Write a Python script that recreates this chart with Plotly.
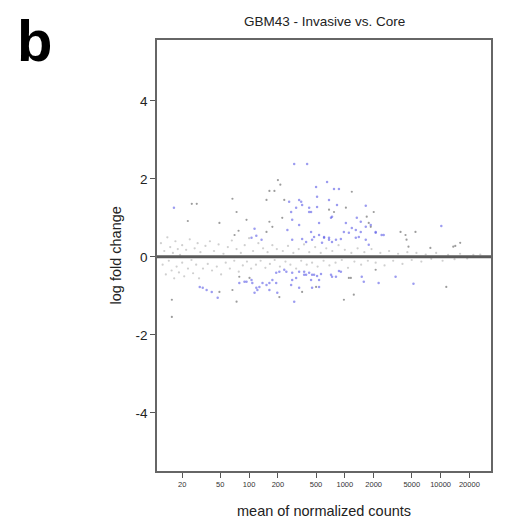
import plotly.graph_objects as go

# ---- data (mean of normalized counts, log fold change) ----
blue_counts = [296, 404, 652, 868, 501, 513, 262, 333, 275, 310, 358, 444, 538, 717, 282, 251, 333,
               444, 477, 538, 607, 684, 282, 358, 394, 978, 1102, 1302, 1468, 135, 808, 910, 1302, 1655,
               1468, 1655, 771, 350, 684, 424, 513, 828, 735, 1334, 1026, 1183, 1400, 2100, 2545, 10190,
               455, 607, 684, 578, 735, 1655, 1866, 2100, 2425, 1778, 16.4, 114, 106, 119, 424,
               30.5, 36, 40.7, 47, 32.8, 79, 94, 108, 114, 122, 138, 152, 163, 175, 163,
               192, 207, 233, 245, 282, 333, 376, 424, 455, 513, 564, 282, 310, 197, 296,
               333, 275, 444, 455, 538, 192, 717, 808, 868, 735, 910, 538, 1503, 1578, 2256, 3390, 5212,
               376, 477, 89.5, 106, 119, 128, 394]
blue_lfc = [2.38, 2.38, 1.92, 1.74, 1.79, 1.54, 1.41, 1.46, 1.15, 1.26, 1.33, 1.15, 0.87, 1.0, 0.95, 0.69, 0.82,
            0.64, 0.51, 0.56, 0.51, 0.49, 0.44, 0.46, 0.38, 0.64, 0.62, 0.69, 0.64, 0.44, 0.44, 0.46, 0.49, 0.44,
            0.9, 0.77, 1.74, 1.41, 1.46, 1.26, 1.28, 1.33, 1.03, 1.0, 0.87, 0.74, 0.51, 0.62, 0.56, 0.79,
            0.44, 0.49, 0.44, 0.36, 0.38, 1.31, 0.82, 0.64, 0.56, 0.31, 1.26, 0.72, 0.49, 0.54, 1.15,
            -0.77, -0.85, -0.9, -1.05, -0.79, -0.67, -0.64, -0.67, -0.92, -0.85, -0.67, -0.72, -0.67, -0.59, -0.85,
            -0.41, -0.38, -0.33, -0.38, -0.41, -0.38, -0.38, -0.41, -0.46, -0.49, -0.44, -0.59, -0.54, -0.92, -1.15,
            -0.79, -0.72, -0.59, -0.79, -0.77, -0.67, -0.46, -0.51, -0.36, -0.51, -0.38, -0.59, -0.51, -0.64, -0.67, -0.51, -0.69,
            -0.46, -0.46, -0.64, -0.59, -0.79, -0.77, -0.46]

dark_counts = [200, 212, 67, 22.9, 25.2, 28.4, 163, 184, 152, 1183, 49, 94, 77.6, 70.5, 74, 233, 222,
               684, 771, 1026, 2004, 1778, 1866, 1694, 3820, 4305, 5470, 16040, 14250, 4413, 163, 175, 152,
               15.6, 15.6, 67, 74, 49, 79, 101, 207, 358, 1102, 1241, 978, 501, 2100, 1156, 11480,
               4625, 7830, 13580]
dark_lfc = [1.97, 1.85, 1.49, 0.92, 1.36, 1.36, 1.69, 1.69, 1.46, 1.67, 0.87, 0.95, 0.67, 0.56, 1.15, 1.46, 1.0,
            1.21, 1.15, 1.26, 1.15, 0.87, 0.77, 1.03, 0.64, 0.56, 0.64, 0.36, 0.28, 0.44, 0.9, 0.77, 0.64,
            -1.1, -1.54, -0.85, -1.15, -0.9, -0.51, -0.54, -1.03, -0.9, -0.54, -0.97, -1.1, -0.77, -0.33, -0.54, -0.77,
            0.26, 0.23, 0.26]

light_counts = [12, 12.5, 13, 13.5, 14, 14.5, 15, 15.5, 16, 16.5, 17, 17.5, 18, 18.5, 19, 20, 20, 21, 22, 23,
                24, 25, 26, 27, 28, 29, 30, 31, 33, 35,
                37, 39, 41, 43, 46, 48, 51, 54, 57, 60, 63, 66, 70, 74, 78, 82, 86, 90, 95, 100,
                105, 110, 118, 125, 132, 140, 148, 156, 165, 175, 185, 195,
                210, 225, 240, 255, 270, 290, 310, 330, 350, 375, 400, 425, 455, 490, 520, 560, 600, 640,
                690, 740, 800, 860, 930, 1000, 1080, 1170, 1260, 1360, 1480, 1600, 1740, 1900,
                2100, 2350, 2600, 2900, 3200, 3600, 4000, 4500, 5000, 5600, 6300, 7000, 8000, 9000,
                10500, 12000, 14000, 16000, 19000, 22000, 26000]
light_lfc = [0.35, -0.2, 0.15, -0.45, 0.5, -0.1, 0.25, -0.35, 0.1, -0.55, 0.4, -0.25, 0.2, -0.4, 0.05, -0.15, 0.3, -0.5, 0.18, -0.3,
             0.45, -0.08, -0.42, 0.22, -0.2, 0.35, -0.55, 0.12, -0.3, 0.28,
             -0.18, 0.4, -0.35, 0.15, -0.25, 0.32, -0.45, 0.08, -0.15, 0.25, -0.3, 0.42, -0.1, 0.2, -0.38, 0.1, -0.22, 0.3, -0.12, 0.48,
             -0.3, 0.15, -0.2, 0.35, -0.1, 0.22, -0.28, 0.12, -0.18, 0.3, -0.08, 0.2,
             -0.25, 0.15, -0.12, 0.28, -0.2, 0.1, -0.3, 0.2, -0.1, 0.32, -0.2, 0.12, -0.15, 0.25, -0.25, 0.1, -0.1, 0.22,
             -0.22, 0.15, -0.15, 0.3, -0.08, 0.18, -0.28, 0.1, -0.12, 0.22, -0.2, 0.12, -0.1, 0.2,
             -0.15, 0.1, -0.22, 0.15, -0.1, 0.08, -0.18, 0.12, -0.08, 0.1, -0.12, 0.06, -0.05, 0.1,
             -0.1, 0.05, -0.06, 0.08, -0.04, 0.05, 0.06]

x_ticks = [20, 50, 100, 200, 500, 1000, 2000, 5000, 10000, 20000]
y_ticks = [-4, -2, 0, 2, 4]

FONT = "Liberation Sans, Arial, sans-serif"

fig = go.Figure()
fig.add_trace(go.Scatter(x=light_counts, y=light_lfc, mode="markers",
                         marker=dict(size=2.2, color="rgba(160,160,160,0.5)"), hoverinfo="skip"))
fig.add_trace(go.Scatter(x=dark_counts, y=dark_lfc, mode="markers",
                         marker=dict(size=2.2, color="rgba(90,90,90,0.6)"), hoverinfo="skip"))
fig.add_trace(go.Scatter(x=blue_counts, y=blue_lfc, mode="markers",
                         marker=dict(size=2.5, color="rgba(90,90,230,0.6)"), hoverinfo="skip"))

fig.add_hline(y=0, line=dict(color="#5a5a5a", width=3))

fig.update_layout(
    width=505, height=528,
    margin=dict(l=157, r=12, t=40, b=57),
    paper_bgcolor="white", plot_bgcolor="white",
    showlegend=False,
    font=dict(family=FONT, color="#222"),
    annotations=[
        dict(text="b", x=-0.425, y=1.0, xref="paper", yref="paper", xanchor="left", yanchor="middle",
             showarrow=False, font=dict(size=58, family=FONT, color="black", weight="bold")),
        dict(text="GBM43 - Invasive vs. Core", x=0.5, y=1.0, xref="paper", yref="paper",
             xanchor="center", yanchor="bottom", yshift=9, showarrow=False,
             font=dict(size=13.5, family=FONT, color="#222")),
        dict(text="mean of normalized counts", x=0.5, y=0, xref="paper", yref="paper",
             xanchor="center", yanchor="top", yshift=-30, showarrow=False,
             font=dict(size=14.5, family=FONT, color="#222")),
        dict(text="log fold change", x=0, y=0.5, xref="paper", yref="paper",
             xanchor="center", yanchor="middle", xshift=-42, textangle=-90, showarrow=False,
             font=dict(size=14.5, family=FONT, color="#222")),
    ],
)
fig.update_xaxes(type="log", range=[1.038, 4.527], tickvals=x_ticks,
                 ticktext=[str(v) for v in x_ticks], ticks="outside", ticklen=5, tickcolor="#555",
                 showgrid=False, zeroline=False, showline=True, linecolor="#666", linewidth=1.5,
                 mirror=True, tickfont=dict(size=7.5, color="#333"))
fig.update_yaxes(range=[-5.49, 5.56], tickvals=y_ticks, ticktext=[str(v) for v in y_ticks],
                 ticks="outside", ticklen=5, tickcolor="#555",
                 showgrid=False, zeroline=False, showline=True, linecolor="#666", linewidth=1.5,
                 mirror=True, tickfont=dict(size=13.5, color="#222"))

fig.write_html("out.html")
